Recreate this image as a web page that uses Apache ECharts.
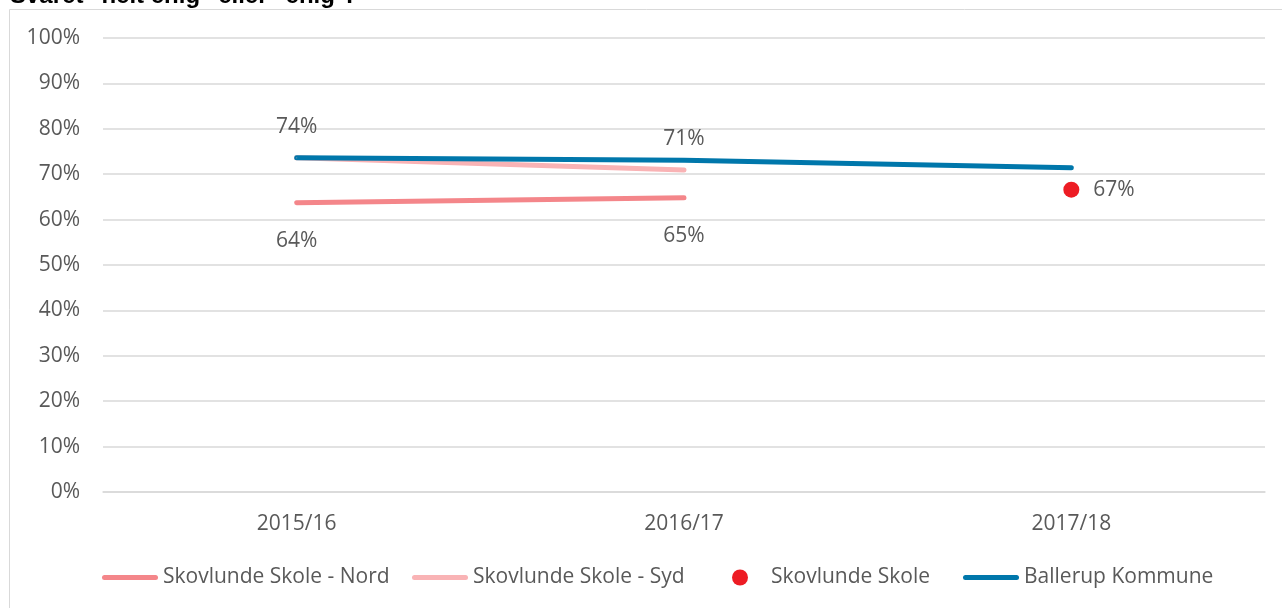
<!DOCTYPE html>
<html><head><meta charset="utf-8">
<script src="https://cdn.jsdelivr.net/npm/echarts@6/dist/echarts.min.js"></script>
<style>html,body{margin:0;padding:0;background:#fff}#c{width:1282px;height:608px}</style>
</head><body><div id="c"></div>
<script>
var categories = ['2015/16', '2016/17', '2017/18'];
var nord = [63.7, 64.8, null];
var syd = [73.6, 70.9, null];
var skole = [null, null, 66.6];
var ballerup = [73.6, 73.1, 71.4];
var yTicks = [0, 10, 20, 30, 40, 50, 60, 70, 80, 90, 100];
var titleText = 'Svaret "helt enig" eller "enig".';
var seriesNames = ['Skovlunde Skole - Nord', 'Skovlunde Skole - Syd', 'Skovlunde Skole', 'Ballerup Kommune'];

var FONT = '"Open Sans", sans-serif';
var FS = 21;
var TXT = '#595959';
var lineIcon = 'path://M2.5,0 L53.5,0 A2.5,2.5 0 0 1 53.5,5 L2.5,5 A2.5,2.5 0 0 1 2.5,0 Z';
function pct(p){ return Math.round(p.value) + '%'; }
function legendFor(name, left, width, icon){
  return {
    left: left, top: 567, padding: 0, itemWidth: width, itemHeight: 16, selectedMode: false,
    textStyle: {color: TXT, fontFamily: FONT, fontSize: FS},
    data: [{name: name, icon: icon}]
  };
}

var chart = echarts.init(document.getElementById('c'), null, {renderer: 'canvas'});
chart.setOption({
  backgroundColor: '#fff',
  animation: false,
  graphic: [
    {type: 'rect', shape: {x: 9.5, y: 9.5, width: 1400, height: 800}, style: {fill: 'none', stroke: '#D9D9D9', lineWidth: 1}, silent: true},
    {type: 'text', x: 10, y: 8, style: {text: titleText, verticalAlign: 'bottom', font: 'bold 24px "Liberation Sans", Arial, sans-serif', fill: '#000'}}
  ],
  grid: {left: 103, right: 17, top: 38, bottom: 116},
  legend: [
    legendFor(seriesNames[0], 102, 56, lineIcon),
    legendFor(seriesNames[1], 412, 56, lineIcon),
    legendFor(seriesNames[2], 732, 52, 'circle'),
    legendFor(seriesNames[3], 963, 56, lineIcon)
  ],
  xAxis: {
    type: 'category', data: categories, boundaryGap: true,
    axisLine: {show: true, lineStyle: {color: '#D9D9D9', width: 1.5}},
    axisTick: {show: false},
    axisLabel: {color: TXT, fontFamily: FONT, fontSize: FS, margin: 22}
  },
  yAxis: {
    type: 'value', min: yTicks[0], max: yTicks[yTicks.length - 1], interval: yTicks[1] - yTicks[0],
    axisLine: {show: false}, axisTick: {show: false},
    splitLine: {lineStyle: {color: '#D9D9D9', width: 1.5}},
    axisLabel: {color: TXT, fontFamily: FONT, fontSize: FS, margin: 23, formatter: '{value}%'}
  },
  series: [
    {name: seriesNames[0], type: 'line', data: nord, symbol: 'circle', symbolSize: 1,
      color: '#F4868A', lineStyle: {width: 5, color: '#F4868A', cap: 'round'}, itemStyle: {color: '#F4868A'},
      label: {show: true, position: 'bottom', distance: 27, color: TXT, fontFamily: FONT, fontSize: FS, formatter: pct}},
    {name: seriesNames[1], type: 'line', data: syd, symbol: 'circle', symbolSize: 1,
      color: '#F9B3B5', lineStyle: {width: 5, color: '#F9B3B5', cap: 'round'}, itemStyle: {color: '#F9B3B5'},
      label: {show: true, position: 'top', distance: 20, color: TXT, fontFamily: FONT, fontSize: FS, formatter: pct}},
    {name: seriesNames[3], type: 'line', data: ballerup, symbol: 'circle', symbolSize: 1,
      color: '#0077AB', lineStyle: {width: 5, color: '#0077AB', cap: 'round'}, itemStyle: {color: '#0077AB'},
      z: 3},
    {name: seriesNames[2], type: 'scatter', data: skole, symbol: 'circle', symbolSize: 16,
      color: '#ED1C24', itemStyle: {color: '#ED1C24', opacity: 1},
      label: {show: true, position: 'right', distance: 14, color: TXT, fontFamily: FONT, fontSize: FS, formatter: pct}}
  ]
});
</script></body></html>
